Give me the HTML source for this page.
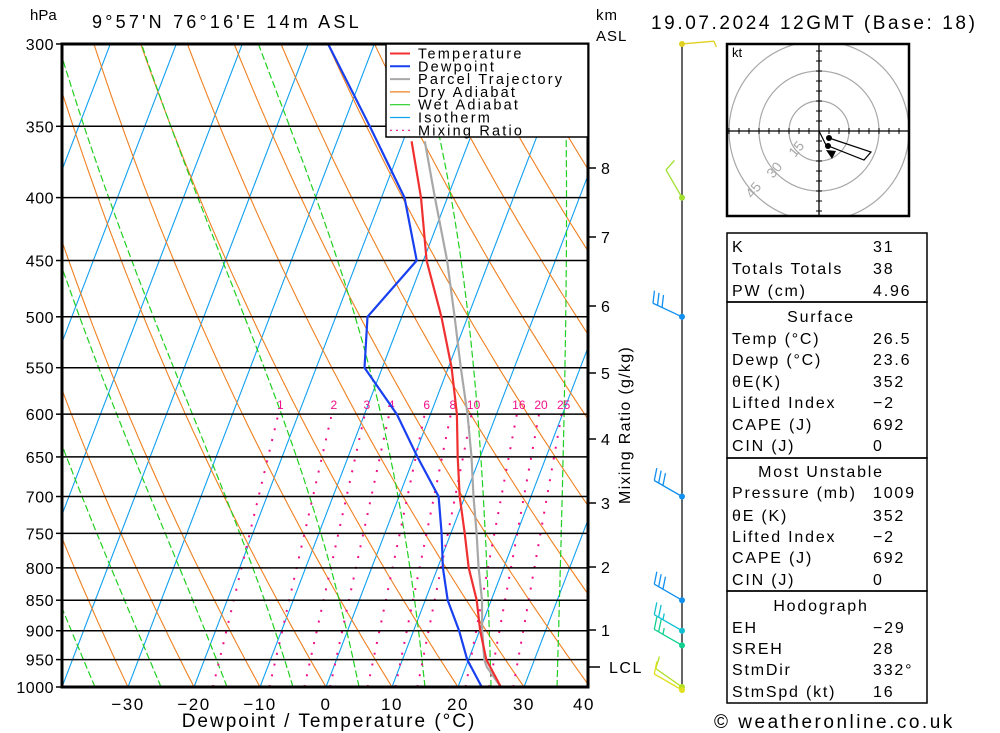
<!DOCTYPE html>
<html><head><meta charset="utf-8">
<style>
html,body{margin:0;padding:0;background:#fff;}
svg{display:block;font-family:"Liberation Sans",sans-serif;}
</style></head>
<body>
<svg id="c" width="1000" height="733" viewBox="0 0 1000 733" xmlns="http://www.w3.org/2000/svg">
<defs><clipPath id="plotclip"><rect x="62" y="44" width="526" height="643"/></clipPath>
<clipPath id="hodoclip"><rect x="727" y="44" width="182" height="172"/></clipPath></defs>
<g id="bg" clip-path="url(#plotclip)"></g>
<g id="isobars"></g>
<g id="profiles" clip-path="url(#plotclip)"></g>
<g id="axes"></g>
<g id="winds"></g>
<g id="hodo"></g>
<g id="tables"></g>
</svg>
<script>
// ---- data ----
const tempP = [1000,950,900,850,800,750,700,650,600,550,500,450,400,360];
const tempValues = [26.5,22.7,20.1,17.8,14.7,12.1,9.2,6.6,4.0,0.5,-4.0,-9.5,-14.0,-18.7];
const dewP = [1000,950,900,850,800,750,700,650,600,550,500,450,400,350,300];
const dewValues = [23.6,19.8,16.9,13.4,10.8,8.6,6.0,0.5,-5.1,-12.7,-15.2,-11.0,-16.5,-25.9,-37.0];
const parcelP = [1000,963,950,900,850,800,750,700,650,600,550,500,450,400,360];
const parcelValues = [26.5,23.2,22.4,20.4,18.6,16.2,13.9,11.3,8.7,5.6,1.9,-2.0,-6.4,-11.9,-16.7];
const pressureTicks = [300,350,400,450,500,550,600,650,700,750,800,850,900,950,1000];
const tempTicks = [-30,-20,-10,0,10,20,30,40];
const kmTicks = [8,7,6,5,4,3,2,1];
const kmY = [168,237,306,373,439,503,567,630];
const mixRatios = [1,2,3,4,6,8,10,16,20,25];
const windP = [300,400,500,700,850,900,925,1000,1000];
const windDir = [85,330,295,300,300,300,300,305,300];
const windSpd = [5,10,30,30,30,25,25,10,10];
const windColors = ["#e0d020","#a0e030","#1090f0","#1090f0","#1090f0","#10c0d0","#10d090","#b0e020","#e0e020"];

const NS="http://www.w3.org/2000/svg";
function mk(parent,tag,attrs){const e=document.createElementNS(NS,tag);for(const k in attrs)e.setAttribute(k,attrs[k]);parent.appendChild(e);return e;}
const Y0=687, YS=534.1, X0=326, XS=6.6, SK=0.383;
function yP(p){return Y0-YS*Math.log(1000/p);}
function xT(T,p){return X0+XS*T+SK*(Y0-yP(p));}
function pts(arrP,arrT){return arrP.map((p,i)=>xT(arrT[i],p).toFixed(1)+","+yP(p).toFixed(1)).join(" ");}

const bg=document.getElementById('bg');
for(let T=-120;T<=40;T+=10){
  const l=mk(bg,'line',{x1:xT(T,1050),y1:yP(1050),x2:xT(T,250),y2:yP(250),stroke:"#10a0f0","stroke-width":1.1});
  
  
}
for(let th=-40;th<=130;th+=10){
  const a=[];for(let p=1050;p>=290;p-=10){const T=(th+273.15)*Math.pow(p/1000,0.286)-273.15;a.push(xT(T,p).toFixed(1)+","+yP(p).toFixed(1));}
  const l=mk(bg,'polyline',{points:a.join(" "),fill:"none",stroke:"#f08020","stroke-width":1.1});
  
  
}
function es(T){return 6.112*Math.exp(17.67*T/(T+243.5));}
for(let T0=-45;T0<=35;T0+=10){
  let T=T0+273.15,p=1000;const a=[xT(T0,1000).toFixed(1)+","+yP(1000).toFixed(1)];
  while(p>300){const dp=-5;const e=es(T-273.15);const rs=0.622*e/(p-e);
    const dTdp=(287*T+2.5e6*rs)/(p*(1004+2.5e6*2.5e6*rs*0.622/(287*T*T)));
    T+=dTdp*dp;p+=dp;a.push(xT(T-273.15,p).toFixed(1)+","+yP(p).toFixed(1));}
  const l=mk(bg,'polyline',{points:a.join(" "),fill:"none",stroke:"#20d020","stroke-width":1.2,"stroke-dasharray":"7,3"});
  
  
}
function tdFromW(w,p){const e=w*p/(622+w);const L=Math.log(e/6.112);return 243.5*L/(17.67-L);}
mixRatios.forEach(w=>{
  const l=mk(bg,'line',{x1:xT(tdFromW(w,1000),1000),y1:yP(1000),x2:xT(tdFromW(w,600),600),y2:yP(600),stroke:"#f0108a","stroke-width":2,"stroke-dasharray":"2,9"});
  
  
  const t=mk(bg,'text',{x:xT(tdFromW(w,600),600)+2,y:409,fill:"#f0108a","font-size":12,"text-anchor":"middle"});
  t.textContent=w;
  
  
});
const iso=document.getElementById('isobars');
const ax=document.getElementById('axes');
pressureTicks.forEach(p=>{
  const l=mk(iso,'line',{x1:62,y1:yP(p),x2:588,y2:yP(p),stroke:"#000","stroke-width":1.5});
  
  
  const tk=mk(ax,'line',{x1:56,y1:yP(p),x2:62,y2:yP(p),stroke:"#000","stroke-width":1.5});
  
  
  const t=mk(ax,'text',{x:54,y:yP(p)+6,"font-size":16,"text-anchor":"end","letter-spacing":"0.5"});
  t.textContent=p;
  
  
});
const pr=document.getElementById('profiles');
[[parcelP,parcelValues,"#a8a8a8","parcel-trajectory-line"],[tempP,tempValues,"#f03030","temperature-line"],[dewP,dewValues,"#1840f0","dewpoint-line"]].forEach(s=>{
  const l=mk(pr,'polyline',{points:pts(s[0],s[1]),fill:"none",stroke:s[2],"stroke-width":2.2});
  
  
});
const fr=mk(ax,'rect',{x:62,y:44,width:526,height:643,fill:"none",stroke:"#000","stroke-width":3});


tempTicks.forEach(T=>{
  const t=mk(ax,'text',{x:Math.min(xT(T,1000),584),y:710,"font-size":17,"text-anchor":"middle","letter-spacing":"1.5"});
  t.textContent=(T<0?"\u2212"+(-T):T);
  
  
});
kmTicks.forEach((k,i)=>{
  const l=mk(ax,'line',{x1:588,y1:kmY[i],x2:596,y2:kmY[i],stroke:"#000","stroke-width":1.5});
  
  
  const t=mk(ax,'text',{x:601,y:kmY[i]+6,"font-size":16});
  t.textContent=k;
  
  
});
{const l=mk(ax,'line',{x1:588,y1:667,x2:600,y2:667,stroke:"#000","stroke-width":1.5});


const t=mk(ax,'text',{x:609,y:673,"font-size":16,"letter-spacing":"1.5"});t.textContent="LCL";

}
function txt(parent,x,y,s,size,name,extra){const t=mk(parent,'text',Object.assign({x:x,y:y,"font-size":size},extra||{}));t.textContent=s;return t;}
txt(ax,30,20,"hPa",15,"y-axis-unit");
txt(ax,92,28,"9°57'N  76°16'E  14m  ASL",18,"location-title",{"letter-spacing":"3.2","xml:space":"preserve"});
txt(ax,596,20,"km",15,"km-axis-unit",{"letter-spacing":"1"});
txt(ax,596,41,"ASL",15,"km-axis-asl",{"letter-spacing":"1"});
txt(ax,651,29,"19.07.2024  12GMT  (Base: 18)",19,"date-title",{"letter-spacing":"2.6","xml:space":"preserve"});
txt(ax,329,727,"Dewpoint / Temperature (°C)",19,"x-axis-title",{"text-anchor":"middle","letter-spacing":"2"});
txt(ax,0,0,"Mixing Ratio (g/kg)",16,"mixing-ratio-axis-title",{transform:"translate(630,425) rotate(-90)","text-anchor":"middle","letter-spacing":"1.3"});
const lg=mk(ax,'g',{});
mk(lg,'rect',{x:386,y:44,width:202,height:93,fill:"#fff",stroke:"#000","stroke-width":1.5});
const legNames=["Temperature","Dewpoint","Parcel Trajectory","Dry Adiabat","Wet Adiabat","Isotherm","Mixing Ratio"];
const legCols=["#f03030","#1840f0","#a8a8a8","#f08020","#20d020","#10a0f0","#f0108a"];
legNames.forEach((n,i)=>{const y=53.5+i*12.8;
  const l=mk(lg,'line',{x1:390,y1:y,x2:410,y2:y,stroke:legCols[i],"stroke-width":i<3?2:1.2});
  if(i==6)l.setAttribute('stroke-dasharray','2,4');
  
  txt(lg,418,y+5,n,14.5,"legend-entry",{"letter-spacing":"2.2"});
});
const wd=document.getElementById('winds');
mk(wd,'line',{x1:682,y1:44,x2:682,y2:690,stroke:"#000","stroke-width":1.2});
windP.forEach((p,i)=>{
  const y0=yP(p)+(i==8?3:0), x0=682, c=windColors[i];
  const a=windDir[i]*Math.PI/180, dx=Math.sin(a), dy=-Math.cos(a);
  const L=32, ex=x0+dx*L, ey=y0+dy*L;
  const g=mk(wd,'g',{});
  mk(g,'line',{x1:x0,y1:y0,x2:ex,y2:ey,stroke:c,"stroke-width":1.3});
  let n=Math.floor(windSpd[i]/10), half=(windSpd[i]%10)>=5;
  const px=-dy, py=dx;
  let k=0;
  for(;k<n;k++){const bx=ex-dx*k*5,by=ey-dy*k*5;mk(g,'line',{x1:bx,y1:by,x2:bx+px*12+dx*4,y2:by+py*12+dy*4,stroke:c,"stroke-width":1.3});}
  if(half){const bx=ex-dx*k*5,by=ey-dy*k*5;mk(g,'line',{x1:bx,y1:by,x2:bx+px*6+dx*2,y2:by+py*6+dy*2,stroke:c,"stroke-width":1.3});}
  mk(g,'circle',{cx:x0,cy:y0,r:3,fill:c});
});
const hd=document.getElementById('hodo');
const hcx=819,hcy=131;
const hg=mk(hd,'g',{"clip-path":"url(#hodoclip)"});
[30,60,90].forEach(r=>{const c=mk(hg,'circle',{cx:hcx,cy:hcy,r:r,fill:"none",stroke:"#a8a8a8","stroke-width":1.2});});
mk(hd,'line',{x1:727,y1:hcy,x2:909,y2:hcy,stroke:"#000","stroke-width":1.3});
mk(hd,'line',{x1:hcx,y1:44,x2:hcx,y2:216,stroke:"#000","stroke-width":1.3});
for(let d=-90;d<=90;d+=10){if(d==0)continue;mk(hg,'line',{x1:hcx+d,y1:hcy-3,x2:hcx+d,y2:hcy+3,stroke:"#000"});mk(hg,'line',{x1:hcx-3,y1:hcy+d,x2:hcx+3,y2:hcy+d,stroke:"#000"});}
[["15",800,152],["30",778,173],["45",757,193]].forEach(s=>txt(hd,0,0,s[0],14,"hodograph-ring-label",{fill:"#a8a8a8",transform:`translate(${s[1]},${s[2]}) rotate(-50)`,"text-anchor":"middle"}));
const hl=mk(hd,'polyline',{points:"819,131 826,145 864,160 871,152 829,138",fill:"none",stroke:"#000","stroke-width":1.2});

mk(hd,'circle',{cx:829,cy:138,r:3,fill:"#000"});
mk(hd,'circle',{cx:828,cy:146,r:3,fill:"#000"});
mk(hd,'polygon',{points:"826,150 836,151 832,159",fill:"#000"});
mk(hd,'rect',{x:727,y:44,width:182,height:172,fill:"none",stroke:"#000","stroke-width":2.5});
txt(hd,732,57,"kt",13,"hodograph-unit");
const tb=document.getElementById('tables');
[[233,302],[302,458],[458,591],[591,703]].forEach(b=>{const r=mk(tb,'rect',{x:727,y:b[0],width:200,height:b[1]-b[0],fill:"none",stroke:"#000","stroke-width":1.5});});
const rows=[
 [252,"K","31"],[274,"Totals Totals","38"],[296,"PW (cm)","4.96"],
 [322,"Surface",null],[344,"Temp (°C)","26.5"],[365,"Dewp (°C)","23.6"],[387,"θE(K)","352"],[408,"Lifted Index","\u22122"],[430,"CAPE (J)","692"],[451,"CIN (J)","0"],
 [477,"Most Unstable",null],[498,"Pressure (mb)","1009"],[521,"θE (K)","352"],[542,"Lifted Index","\u22122"],[563,"CAPE (J)","692"],[585,"CIN (J)","0"],
 [611,"Hodograph",null],[633,"EH","\u221229"],[654,"SREH","28"],[675,"StmDir","332°"],[697,"StmSpd (kt)","16"]];
rows.forEach(r=>{
  if(r[2]===null){txt(tb,821,r[0],r[1],16,"table-section-title",{"text-anchor":"middle","letter-spacing":"1.8"});}
  else{txt(tb,732,r[0],r[1],16,"table-label",{"letter-spacing":"1.8"});txt(tb,873,r[0],r[2],16,"table-value",{"letter-spacing":"1.8"});}
});
txt(tb,714,728,"© weatheronline.co.uk",19,"copyright",{"letter-spacing":"2.5"});
</script>
</body></html>
